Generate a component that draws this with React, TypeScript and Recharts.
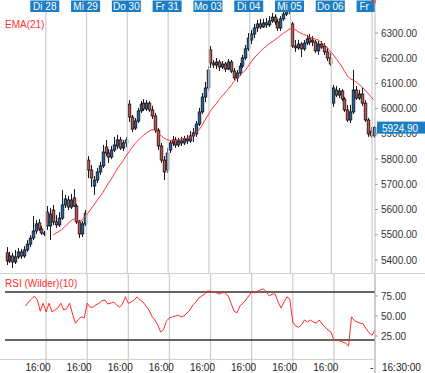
import React from 'react';
import { Bar, ComposedChart, Line, ReferenceLine, XAxis, YAxis } from 'recharts';

const FONT = "'Liberation Sans', Arial, sans-serif";

const days = ['Mo 27', 'Di 28', 'Mi 29', 'Do 30', 'Fr 31', 'Mo 03', 'Di 04', 'Mi 05', 'Do 06', 'Fr 07'];
const hours = ['08:00', '09:00', '10:00', '11:00', '12:00', '13:00', '14:00', '15:00', '16:00', '17:00', '18:00', '19:00', '20:00', '21:00'];
const slots = days.flatMap((d) => hours.map((h) => `${d} ${h}`)).slice(0, 127);

// hourly candles
const opens = [
  5428, 5396, 5416, 5392, 5412, 5432, 5416, 5440, 5463, 5487, 5515, 5547, 5523, 5507,
  5590, 5535, 5598, 5551, 5539, 5566, 5618, 5638, 5610, 5646, 5614, 5551, 5503, 5543,
  5796, 5757, 5693, 5717, 5749, 5773, 5848, 5824, 5808, 5836, 5852, 5876, 5844, 5864,
  6018, 5967, 5923, 5951, 5991, 6022, 5999, 6022, 5995, 5971, 5915, 5852, 5796, 5757,
  5836, 5864, 5876, 5856, 5872, 5864, 5880, 5872, 5892, 5900, 5939, 5987, 6046, 6082,
  6233, 6181, 6173, 6185, 6165, 6177, 6157, 6185, 6149, 6122, 6141, 6169, 6201, 6237,
  6272, 6296, 6320, 6336, 6324, 6340, 6332, 6348, 6363, 6344, 6320, 6356, 6375, 6387,
  6336, 6248, 6241, 6256, 6237, 6260, 6280, 6264, 6264, 6229, 6256, 6248, 6225, 6201,
  6022, 6074, 6054, 6070, 6038, 5995, 5955, 5987, 6074, 6042, 6058, 6022, 5955, 5911,
  5892,
];
const highs = [
  5451, 5432, 5428, 5440, 5448, 5444, 5455, 5479, 5499, 5574, 5559, 5562, 5535, 5515,
  5614, 5606, 5618, 5578, 5590, 5677, 5658, 5654, 5662, 5681, 5622, 5559, 5555, 5598,
  5812, 5777, 5733, 5765, 5789, 5856, 5876, 5840, 5852, 5888, 5896, 5888, 5876, 5888,
  6034, 5975, 5963, 6003, 6030, 6038, 6034, 6030, 6011, 5983, 5923, 5864, 5812, 5844,
  5876, 5892, 5888, 5884, 5888, 5892, 5896, 5911, 5923, 5951, 6003, 6062, 6106, 6169,
  6248, 6193, 6201, 6193, 6189, 6185, 6197, 6193, 6161, 6153, 6181, 6213, 6252, 6300,
  6312, 6336, 6352, 6356, 6356, 6359, 6367, 6379, 6375, 6356, 6367, 6387, 6399, 6407,
  6344, 6272, 6272, 6264, 6272, 6292, 6296, 6288, 6272, 6268, 6268, 6260, 6241, 6221,
  6094, 6090, 6082, 6078, 6046, 6015, 6015, 6153, 6090, 6074, 6086, 6034, 5963, 5927,
  5931,
];
const lows = [
  5380, 5388, 5368, 5384, 5404, 5404, 5408, 5432, 5451, 5479, 5503, 5515, 5499, 5495,
  5519, 5479, 5539, 5527, 5531, 5559, 5606, 5598, 5602, 5610, 5543, 5487, 5491, 5535,
  5725, 5689, 5658, 5705, 5737, 5765, 5812, 5785, 5800, 5828, 5840, 5836, 5832, 5848,
  5947, 5907, 5915, 5943, 5983, 5991, 5991, 5987, 5959, 5904, 5836, 5785, 5717, 5745,
  5824, 5852, 5844, 5848, 5852, 5856, 5860, 5864, 5868, 5888, 5931, 5979, 6026, 6070,
  6161, 6161, 6157, 6149, 6157, 6145, 6153, 6141, 6114, 6106, 6130, 6161, 6193, 6229,
  6256, 6280, 6304, 6316, 6320, 6320, 6324, 6340, 6332, 6308, 6308, 6348, 6367, 6375,
  6241, 6225, 6233, 6205, 6229, 6252, 6252, 6248, 6221, 6213, 6237, 6213, 6189, 6169,
  6007, 6046, 6042, 6030, 5987, 5947, 5943, 5979, 6034, 6034, 6011, 5947, 5888, 5884,
  5884,
];
const closes = [
  5396, 5416, 5392, 5412, 5432, 5416, 5440, 5463, 5487, 5515, 5543, 5523, 5507, 5503,
  5535, 5582, 5551, 5539, 5566, 5618, 5642, 5610, 5638, 5614, 5551, 5503, 5543, 5586,
  5757, 5725, 5717, 5749, 5773, 5828, 5824, 5808, 5836, 5856, 5876, 5844, 5864, 5876,
  5967, 5919, 5951, 5991, 6018, 5999, 6022, 5995, 5971, 5915, 5852, 5796, 5749, 5824,
  5864, 5876, 5856, 5872, 5864, 5880, 5872, 5892, 5904, 5939, 5987, 6046, 6082, 6153,
  6181, 6173, 6185, 6165, 6177, 6157, 6185, 6149, 6122, 6141, 6169, 6201, 6237, 6280,
  6296, 6320, 6336, 6324, 6340, 6332, 6348, 6363, 6344, 6320, 6356, 6375, 6387, 6391,
  6248, 6241, 6256, 6237, 6260, 6276, 6264, 6272, 6229, 6256, 6244, 6225, 6201, 6177,
  6082, 6054, 6070, 6038, 5995, 5955, 5987, 6074, 6042, 6058, 6022, 5955, 5900, 5892,
  5924.9,
];

// EMA(21) starts at slot 16
const emaStart = 16;
const ema21 = [
  5499, 5507, 5513, 5521, 5531, 5543, 5555, 5562, 5559, 5553,
  5559, 5574, 5586, 5602, 5618, 5634, 5650, 5666, 5685, 5705,
  5721, 5741, 5761, 5777, 5792, 5812, 5828, 5844, 5860, 5872,
  5884, 5894, 5903, 5911, 5917, 5915, 5903, 5894, 5884, 5878,
  5874, 5872, 5874, 5876, 5880, 5882, 5884, 5886, 5890, 5903,
  5915, 5931, 5951, 5971, 5991, 6007, 6020, 6036, 6050, 6062,
  6076, 6090, 6106, 6120, 6130, 6141, 6153, 6169, 6185, 6201,
  6213, 6225, 6237, 6246, 6256, 6264, 6272, 6280, 6290, 6298,
  6306, 6314, 6320, 6314, 6306, 6300, 6294, 6290, 6284, 6280,
  6276, 6272, 6264, 6254, 6244, 6229, 6217, 6201, 6185, 6169,
  6149, 6130, 6118, 6114, 6106, 6096, 6086, 6074, 6062, 6048, 6036,
];

// RSI (Wilder)(10) starts at slot 7
const rsiStart = 7;
const rsi10 = [
  62.5, 67.5, 71, 75, 70, 56, 66, 55, 66, 55,
  57.5, 60, 66, 57.5, 59, 66, 52.5, 41, 46, 49,
  47.5, 66, 61, 61, 64, 66, 69, 70, 65, 66,
  67.5, 64, 61, 65, 74, 66, 67.5, 70, 74, 70,
  67.5, 62.5, 57.5, 50, 45, 39, 30, 33, 44, 47.5,
  49, 50, 51, 49, 50, 54, 57.5, 64, 67.5, 72.5,
  75, 77.5, 81, 81, 80, 79, 77.5, 79, 79, 75,
  66, 56, 54, 62.5, 66, 70, 75, 80, 79, 81,
  82.5, 84, 80, 75, 77.5, 77.5, 67.5, 60, 67.5, 74,
  71, 42.5, 37.5, 36, 39, 45, 42.5, 45, 42.5, 41,
  45, 40, 36, 32.5, 30, 20, 20, 19, 17.5, 16,
  12.5, 49, 44, 42.5, 41, 40, 34, 29, 26, 32.5,
];

const priceTicks = [5400, 5500, 5600, 5700, 5800, 5900, 6000, 6100, 6200, 6300];
const rsiTicks = [25, 50, 75];
const rsiBands = [80, 20];
const lastPrice = 5924.9;

const rows = slots.map((slot, i) => ({
  slot,
  open: opens[i],
  high: highs[i],
  low: lows[i],
  close: closes[i],
  ema: i >= emaStart ? ema21[i - emaStart] : null,
  rsi: i >= rsiStart ? rsi10[i - rsiStart] : null,
}));

const dayStarts = days.slice(1).map((label, k) => ({ label, slot: slots[(k + 1) * 14] }));
const timeTicks = [...days.slice(0, 8).map((d) => `${d} 16:00`), slots[126]];

const BLUE_TAG = '#1b7dc3';
const UP = '#1f64a8';
const DOWN = '#c4524b';
const GRID = '#cfcfcf';

function Candle(props: any) {
  const { x, y, width, height, payload } = props;
  if (x == null || y == null || !payload) return null;
  const top = Math.min(y, y + height);
  const bottom = Math.max(y, y + height);
  const range = payload.high - payload.low || 1;
  const k = (bottom - top) / range;
  const yO = top + (payload.high - payload.open) * k;
  const yC = top + (payload.high - payload.close) * k;
  const up = payload.close >= payload.open;
  const px = Math.round(x + width / 2);
  const bTop = Math.min(yO, yC);
  const bH = Math.max(Math.abs(yC - yO), 1);
  return (
    <g>
      <line x1={px + 0.5} x2={px + 0.5} y1={top} y2={bottom} stroke="#1a1a1a" strokeWidth={1} />
      <rect x={px - 0.8} y={bTop} width={2.6} height={bH} fill={up ? UP : DOWN} stroke="#111" strokeWidth={0.8} />
    </g>
  );
}

function DayTag(props: any) {
  const { viewBox, text } = props;
  if (!viewBox) return null;
  const left = viewBox.x - 15.5;
  const clipped = left + 29 > 375;
  const w = clipped ? 375 - left : 29;
  const id = `clip-${text.replace(' ', '')}`;
  return (
    <g>
      <defs>
        <clipPath id={id}>
          <rect x={left} y={0} width={clipped ? w - 4 : w} height={13} />
        </clipPath>
      </defs>
      <rect x={left} y={0.5} width={w} height={11.5} fill={BLUE_TAG} />
      <text x={left + 14.5} y={10} textAnchor="middle" fill="#fff" fontSize={10} fontFamily={FONT} clipPath={`url(#${id})`}>
        {text}
      </text>
      {clipped && <polygon points={`${left + w - 4},0 ${left + w + 1},0 ${left + w + 1},4`} fill="#e8302a" />}
    </g>
  );
}

function PriceTag(props: any) {
  const { viewBox, value } = props;
  if (!viewBox) return null;
  const x0 = viewBox.x + viewBox.width + 2;
  return (
    <g>
      <rect x={x0} y={viewBox.y - 6} width={48} height={12} fill={BLUE_TAG} />
      <text x={x0 + 5} y={viewBox.y + 4} fill="#fff" fontSize={10} fontFamily={FONT}>
        {value.toFixed(2)}
      </text>
    </g>
  );
}

function TimeTick(props: any) {
  const { x, payload } = props;
  const last = payload.value === slots[126];
  return (
    <text x={last ? x - 5 : x - 3} y={98} fill="#222" fontSize={10} fontFamily={FONT}>
      {last ? '-' : '16:00'}
    </text>
  );
}

const axisTick = { fontSize: 10, fill: '#333', fontFamily: FONT };
const layer: React.CSSProperties = { position: 'absolute', left: 0, top: 0 };

export default function App() {
  return (
    <div style={{ position: 'absolute', left: 0, top: 0, width: 425, height: 373, background: '#fff', overflow: 'hidden' }}>
      <div style={layer}>
        <ComposedChart width={425} height={273} data={rows} margin={{ top: 0, right: 0, bottom: 0, left: 5 }} barCategoryGap={0}>
          <XAxis dataKey="slot" hide />
          <YAxis
            orientation="right"
            domain={[5348.4, 6430.8]}
            allowDataOverflow
            ticks={priceTicks}
            width={50}
            tick={axisTick}
            tickFormatter={(v: number) => v.toFixed(2)}
            axisLine={{ stroke: '#bdbdbd' }}
            tickLine={{ stroke: '#999' }}
            tickSize={3}
            tickMargin={3}
          />
          {dayStarts.map((d) => (
            <ReferenceLine key={d.slot} x={d.slot} position="start" stroke={GRID} strokeWidth={1.3} label={<DayTag text={d.label} />} />
          ))}
          <Bar dataKey={(d: any) => [d.low, d.high]} shape={(p: any) => <Candle {...p} />} isAnimationActive={false} />
          <Line type="linear" dataKey="ema" stroke="#ff3535" strokeWidth={1} dot={false} isAnimationActive={false} />
        </ComposedChart>
      </div>

      {/* overlay so the last-price tag sits above the axis labels */}
      <div style={{ ...layer, pointerEvents: 'none' }}>
        <ComposedChart width={425} height={273} data={rows} margin={{ top: 0, right: 0, bottom: 0, left: 5 }}>
          <XAxis dataKey="slot" hide />
          <YAxis orientation="right" domain={[5348.4, 6430.8]} allowDataOverflow width={50} tick={false} axisLine={false} tickLine={false} />
          <ReferenceLine y={lastPrice} stroke="none" label={<PriceTag value={lastPrice} />} />
        </ComposedChart>
      </div>

      <div style={{ ...layer, top: 273 }}>
        <ComposedChart width={425} height={100} data={rows} margin={{ top: 0, right: 0, bottom: 0, left: 5 }}>
          <XAxis dataKey="slot" mirror axisLine={false} tickLine={false} ticks={timeTicks} interval={0} tick={(p: any) => <TimeTick {...p} />} />
          <YAxis
            orientation="right"
            domain={[-21.25, 103.75]}
            allowDataOverflow
            ticks={rsiTicks}
            width={50}
            tick={axisTick}
            tickFormatter={(v: number) => v.toFixed(2)}
            axisLine={{ stroke: '#bdbdbd' }}
            tickLine={{ stroke: '#999' }}
            tickSize={3}
            tickMargin={3}
          />
          {dayStarts.map((d) => (
            <ReferenceLine key={d.slot} x={d.slot} position="start" stroke={GRID} strokeWidth={1.3} />
          ))}
          {rsiBands.map((b) => (
            <ReferenceLine key={b} y={b} stroke="#333" strokeWidth={1.5} />
          ))}
          <Line type="linear" dataKey="rsi" stroke="#ff2a2a" strokeWidth={1} dot={false} isAnimationActive={false} />
        </ComposedChart>
      </div>

      <div style={{ position: 'absolute', left: 0, top: 273, width: 425, height: 1, background: '#d0d0d0' }} />
      <div style={{ position: 'absolute', left: 0, top: 359, width: 375, height: 1, background: '#d0d0d0' }} />
      <span style={{ position: 'absolute', left: 5, top: 19, fontFamily: FONT, fontSize: 10, color: '#ff3030', lineHeight: '12px' }}>
        EMA(21)
      </span>
      <span style={{ position: 'absolute', left: 5, top: 278, fontFamily: FONT, fontSize: 10, color: '#ff3030', lineHeight: '12px' }}>
        RSI (Wilder)(10)
      </span>
      <span style={{ position: 'absolute', left: 382, top: 362, fontFamily: FONT, fontSize: 10, color: '#222', lineHeight: '12px' }}>
        16:30:00
      </span>
    </div>
  );
}
